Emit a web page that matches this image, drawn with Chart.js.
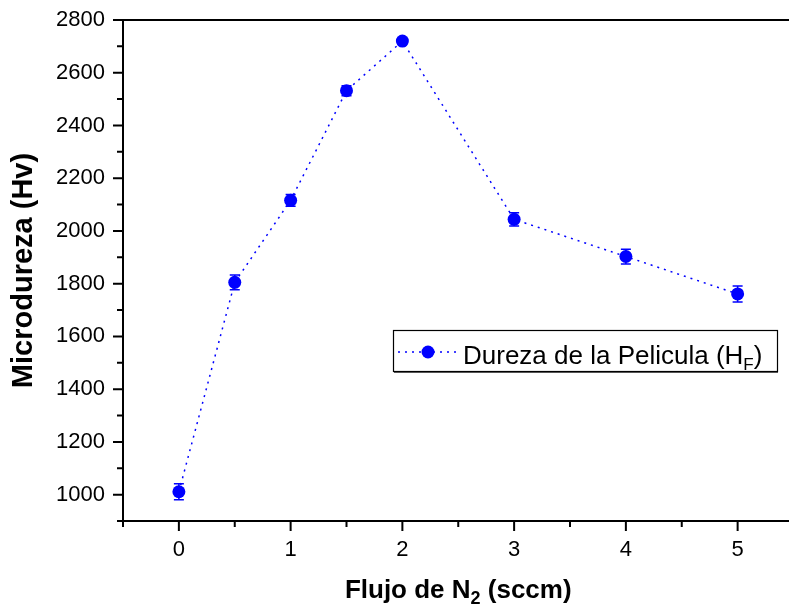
<!DOCTYPE html>
<html>
<head>
<meta charset="utf-8">
<script src="https://cdn.jsdelivr.net/npm/chart.js@4.4.0/dist/chart.umd.min.js"></script>
<style>
  html, body { margin: 0; padding: 0; background: #fff; overflow: hidden; }
  #wrap { width: 789px; height: 611px; overflow: hidden; }
</style>
</head>
<body>
<div id="wrap"><canvas id="durezaChart" width="800" height="611"></canvas></div>
<script>
// data
const flujo = [0, 0.5, 1, 1.5, 2, 3, 4, 5];
const dureza = [1011, 1805, 2116, 2532, 2720, 2044, 1903, 1761];
const errDureza = [30, 28, 22, 19, 12, 25, 28, 30];

const xTicks = [0, 1, 2, 3, 4, 5];
const xMinor = [-0.5, 0.5, 1.5, 2.5, 3.5, 4.5, 5.5];
const yTicks = [1000, 1200, 1400, 1600, 1800, 2000, 2200, 2400, 2600, 2800];
const yMinor = [900, 1100, 1300, 1500, 1700, 1900, 2100, 2300, 2500, 2700];

const FONT = '"Liberation Sans", Arial, Helvetica, sans-serif';
const BLUE = '#0000ff';

// error bars + frame ticks + titles + legend
const decorPlugin = {
    id: 'decor',
    afterDatasetsDraw(chart) {
        const ctx = chart.ctx;
        const xs = chart.scales.x, ys = chart.scales.y;
        ctx.save();
        ctx.strokeStyle = BLUE;
        ctx.lineWidth = 1.5;
        flujo.forEach((fx, i) => {
            const px = xs.getPixelForValue(fx);
            const top = ys.getPixelForValue(dureza[i] + errDureza[i]);
            const bot = ys.getPixelForValue(dureza[i] - errDureza[i]);
            ctx.beginPath();
            ctx.moveTo(px, top); ctx.lineTo(px, bot);
            ctx.moveTo(px - 5, top); ctx.lineTo(px + 5, top);
            ctx.moveTo(px - 5, bot); ctx.lineTo(px + 5, bot);
            ctx.stroke();
        });
        ctx.restore();
    },
    afterDraw(chart) {
        const ctx = chart.ctx;
        const area = chart.chartArea;
        const xs = chart.scales.x, ys = chart.scales.y;
        ctx.save();
        ctx.strokeStyle = '#000';
        ctx.lineWidth = 2;
        ctx.beginPath();
        // top frame line
        ctx.moveTo(area.left, area.top); ctx.lineTo(area.right, area.top);
        yTicks.forEach(v => {
            const py = ys.getPixelForValue(v);
            ctx.moveTo(area.left - 10, py); ctx.lineTo(area.left, py);
        });
        yMinor.forEach(v => {
            const py = ys.getPixelForValue(v);
            ctx.moveTo(area.left - 6, py); ctx.lineTo(area.left, py);
        });
        xTicks.forEach(v => {
            const px = xs.getPixelForValue(v);
            ctx.moveTo(px, area.bottom); ctx.lineTo(px, area.bottom + 10);
        });
        xMinor.forEach(v => {
            const px = xs.getPixelForValue(v);
            ctx.moveTo(px, area.bottom); ctx.lineTo(px, area.bottom + 6);
        });
        ctx.stroke();

        // axis titles
        ctx.fillStyle = '#000';
        ctx.textBaseline = 'alphabetic';
        ctx.save();
        ctx.translate(32, (area.top + area.bottom) / 2);
        ctx.rotate(-Math.PI / 2);
        ctx.textAlign = 'center';
        ctx.font = 'bold 29px ' + FONT;
        ctx.fillText('Microdureza (Hv)', 0, 0);
        ctx.restore();

        const t1 = 'Flujo de N', t2 = '2', t3 = ' (sccm)';
        ctx.font = 'bold 26px ' + FONT;
        const w1 = ctx.measureText(t1).width, w3 = ctx.measureText(t3).width;
        ctx.font = 'bold 18px ' + FONT;
        const w2 = ctx.measureText(t2).width;
        let tx = (area.left + area.right) / 2 - (w1 + w2 + w3) / 2;
        const ty = 598;
        ctx.textAlign = 'left';
        ctx.font = 'bold 26px ' + FONT;
        ctx.fillText(t1, tx, ty); tx += w1;
        ctx.font = 'bold 18px ' + FONT;
        ctx.fillText(t2, tx, ty + 6); tx += w2;
        ctx.font = 'bold 26px ' + FONT;
        ctx.fillText(t3, tx, ty);

        // legend
        ctx.lineWidth = 1.2;
        ctx.strokeStyle = '#000';
        ctx.strokeRect(393.5, 330.5, 384, 41);
        ctx.strokeStyle = '#555';
        ctx.beginPath();
        ctx.moveTo(394, 372.5); ctx.lineTo(778, 372.5);
        ctx.stroke();
        ctx.strokeStyle = BLUE;
        ctx.lineWidth = 1.5;
        ctx.setLineDash([2, 5]);
        ctx.beginPath();
        ctx.moveTo(398, 352); ctx.lineTo(458, 352);
        ctx.stroke();
        ctx.setLineDash([]);
        ctx.fillStyle = BLUE;
        ctx.beginPath();
        ctx.arc(428, 352, 6.5, 0, Math.PI * 2);
        ctx.fill();
        ctx.fillStyle = '#000';
        ctx.font = '26px ' + FONT;
        const l1 = 'Dureza de la Pelicula (H', l2 = 'F', l3 = ')';
        let lx = 463;
        ctx.fillText(l1, lx, 364); lx += ctx.measureText(l1).width;
        ctx.font = '17px ' + FONT;
        ctx.fillText(l2, lx, 370); lx += ctx.measureText(l2).width;
        ctx.font = '26px ' + FONT;
        ctx.fillText(l3, lx, 364);
        ctx.restore();
    }
};

document.addEventListener("DOMContentLoaded", () => {
    const ctx = document.getElementById('durezaChart').getContext('2d');
    new Chart(ctx, {
        type: 'line',
        data: {
            datasets: [{
                label: 'Dureza de la Pelicula (HF)',
                data: flujo.map((x, i) => ({ x: x, y: dureza[i] })),
                borderColor: BLUE,
                backgroundColor: BLUE,
                borderWidth: 1.5,
                borderDash: [2, 5],
                pointRadius: 6.5,
                pointBorderWidth: 0,
                pointBackgroundColor: BLUE,
                tension: 0
            }]
        },
        options: {
            responsive: false,
            animation: false,
            layout: { padding: { top: 20, right: 3, left: 0, bottom: 0 } },
            scales: {
                x: {
                    type: 'linear',
                    min: -0.5,
                    max: 5.5,
                    afterBuildTicks: s => { s.ticks = xTicks.map(v => ({ value: v })); },
                    afterFit: s => {
                        s.height = 90;
                        s.paddingLeft = 0;
                        s.paddingRight = 0;
                    },
                    grid: { display: false, drawTicks: false },
                    border: { display: true, color: '#000', width: 2 },
                    ticks: {
                        padding: 16,
                        color: '#000',
                        font: { family: FONT, size: 22 },
                        maxRotation: 0,
                        callback: v => String(v)
                    }
                },
                y: {
                    min: 900,
                    max: 2800,
                    afterBuildTicks: s => { s.ticks = yTicks.map(v => ({ value: v })); },
                    afterFit: s => {
                        s.width = 123;
                        s.paddingTop = 0;
                        s.paddingBottom = 0;
                    },
                    grid: { display: false, drawTicks: false },
                    border: { display: true, color: '#000', width: 2 },
                    ticks: {
                        padding: 18,
                        color: '#000',
                        font: { family: FONT, size: 22 },
                        callback: v => String(v)
                    }
                }
            },
            plugins: {
                legend: { display: false },
                tooltip: { enabled: false }
            }
        },
        plugins: [decorPlugin]
    });
});
</script>
</body>
</html>
